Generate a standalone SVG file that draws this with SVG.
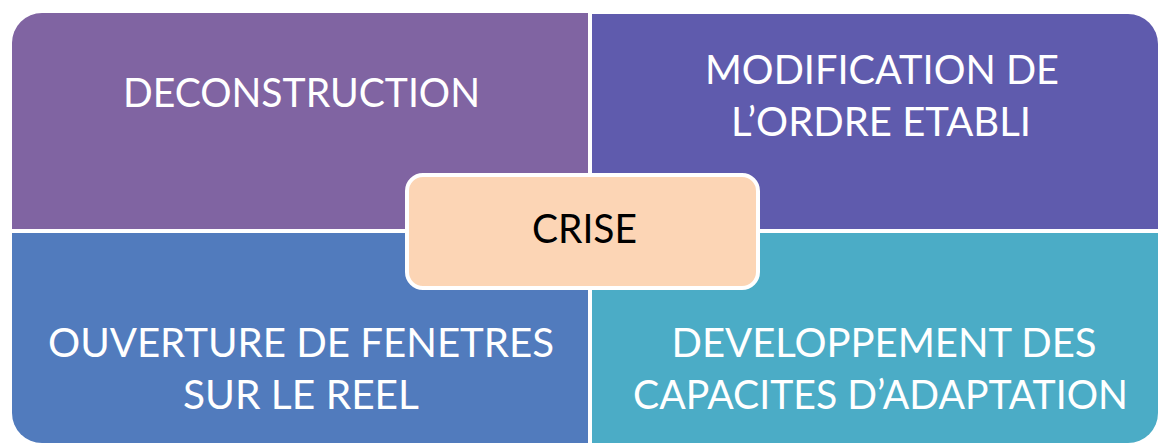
<svg xmlns="http://www.w3.org/2000/svg" width="1158" height="444" viewBox="0 0 1158 444">
<style>
.q{stroke:none}
.t{font-family:Lato,"Liberation Sans",sans-serif;font-size:40px;fill:#ffffff;text-anchor:middle}
.c{font-family:Lato,"Liberation Sans",sans-serif;font-size:40px;fill:#000000;text-anchor:middle}
</style>
<rect width="1158" height="444" fill="#ffffff"/>
<g id="deconstruction">
<path class="q" fill="#8064A2" d="M12 43 A30 30 0 0 1 42 13 L588 13 L588 229 L12 229 Z"/>
<text class="t" x="301.5" y="107" textLength="357" lengthAdjust="spacingAndGlyphs">DECONSTRUCTION</text>
</g>
<g id="modification">
<path class="q" fill="#5F5BAD" d="M592 14 L1128 14 A30 30 0 0 1 1158 44 L1158 229 L592 229 Z"/>
<text class="t" x="882" y="84" textLength="354" lengthAdjust="spacingAndGlyphs">MODIFICATION DE</text>
<text class="t" x="881" y="136" textLength="300" lengthAdjust="spacingAndGlyphs">L’ORDRE ETABLI</text>
</g>
<g id="ouverture">
<path class="q" fill="#517BBD" d="M12 233 L588 233 L588 443 L42 443 A30 30 0 0 1 12 413 Z"/>
<text class="t" x="301" y="357" textLength="506" lengthAdjust="spacingAndGlyphs">OUVERTURE DE FENETRES</text>
<text class="t" x="301" y="409" textLength="236" lengthAdjust="spacingAndGlyphs">SUR LE REEL</text>
</g>
<g id="developpement">
<path class="q" fill="#4BACC6" d="M592 233 L1158 233 L1158 413 A30 30 0 0 1 1128 443 L592 443 Z"/>
<text class="t" x="884" y="357" textLength="425" lengthAdjust="spacingAndGlyphs">DEVELOPPEMENT DES</text>
<text class="t" x="880.5" y="409" textLength="495" lengthAdjust="spacingAndGlyphs">CAPACITES D’ADAPTATION</text>
</g>
<g id="crise">
<rect x="407" y="175" width="351" height="113" rx="16" fill="#FCD5B5" stroke="#ffffff" stroke-width="4"/>
<text class="c" x="584.5" y="243" textLength="105" lengthAdjust="spacingAndGlyphs">CRISE</text>
</g>
<g id="connectors"></g>
</svg>
